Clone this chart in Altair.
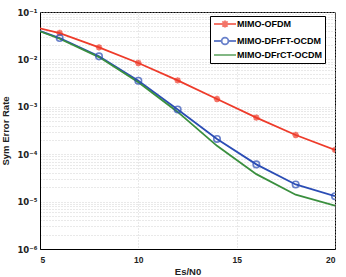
import altair as alt
import pandas as pd

series_names = ["MIMO-OFDM", "MIMO-DFrFT-OCDM", "MIMO-DFrCT-OCDM"]
x_vals = [4, 6, 8, 10, 12, 14, 16, 18, 20]
ofdm = [0.057, 0.036, 0.0179, 0.0084, 0.0036, 0.00146, 0.00059, 0.000254, 0.000123]
dfrft = [0.056, 0.0282, 0.0116, 0.00355, 0.00088, 0.00021, 6.1e-5, 2.3e-5, 1.3e-5]
dfrct = [0.0556, 0.0273, 0.0112, 0.0033, 0.00078, 0.00015, 3.8e-5, 1.4e-5, 8.2e-6]
colors = ["#EE3B2A", "#2B4DB5", "#3A8F3E"]

rows = []
for name, vals in zip(series_names, [ofdm, dfrft, dfrct]):
    for xv, yv in zip(x_vals, vals):
        rows.append({"series": name, "x": xv, "y": yv})
df = pd.DataFrame(rows)

y_ticks = [m * 10.0 ** e for e in range(-6, -1) for m in range(1, 10)] + [0.1]
y_label_expr = ("abs(log(datum.value)/LN10 - round(log(datum.value)/LN10)) < 0.001 ? "
                "['', '10\u207b\u00b9', '10\u207b\u00b2', '10\u207b\u00b3', '10\u207b\u2074', '10\u207b\u2075', '10\u207b\u2076']"
                "[-round(log(datum.value)/LN10)] : ''")

# legend symbol paths (unit = sqrt(size)/2)
P_RED = "M-1,0L4.5,0M1.75,-0.9L1.75,0.9M1.1,-0.65L2.4,0.65M1.1,0.65L2.4,-0.65"
P_BLUE = "M-1,0L0.9,0M2.6,0L4.5,0M0.9,0A0.85,0.85,0,1,1,2.6,0A0.85,0.85,0,1,1,0.9,0"
P_GREEN = "M-1,0L4.5,0"
ASTER = "M-1,0L1,0M0,-1L0,1M-0.72,-0.72L0.72,0.72M-0.72,0.72L0.72,-0.72"

FONT = "Liberation Sans"

x_enc = alt.X("x:Q", scale=alt.Scale(domain=[5, 20], nice=False, zero=False),
              axis=alt.Axis(title="Es/N0", values=[5, 10, 15, 20], format="d"))
y_enc = alt.Y("y:Q", scale=alt.Scale(type="log", domain=[1e-6, 1e-1], nice=False),
              axis=alt.Axis(title="Sym Error Rate", values=y_ticks, labelExpr=y_label_expr,
                            labelFont="DejaVu Sans", labelFontSize=8.5))


def make_legend():
    return alt.Legend(
        title=None, orient="none", legendX=170, legendY=4,
        fillColor="white", strokeColor="black", padding=3,
        symbolSize=64, symbolStrokeWidth=1.8, symbolFillColor="white",
        labelFont=FONT, labelFontSize=9, labelFontWeight="bold",
        labelColor="black", labelOffset=14, rowPadding=2)


color_enc = alt.Color("series:N", sort=series_names,
                      scale=alt.Scale(domain=series_names, range=colors), legend=make_legend())

# legend carrier: the clipped first (x=4) samples, outside the visible x range
legend_layer = alt.Chart(df[df["x"] == 4]).mark_point(
    filled=False, clip=True, size=64, strokeWidth=1.8
).encode(
    x=x_enc, y=y_enc,
    color=color_enc,
    shape=alt.Shape("series:N", sort=series_names,
                    scale=alt.Scale(domain=series_names, range=[P_RED, P_BLUE, P_GREEN]),
                    legend=make_legend()),
)

lines = alt.Chart(df).mark_line(strokeWidth=1.8, clip=True).encode(
    x=x_enc, y=y_enc, color=color_enc,
)

red_pts = alt.Chart(df[(df["series"] == series_names[0]) & (df["x"] >= 6)]).mark_point(
    filled=False, strokeWidth=1.8, clip=True, shape=ASTER, size=40, color=colors[0]
).encode(x=x_enc, y=y_enc)

blue_pts = alt.Chart(df[(df["series"] == series_names[1]) & (df["x"] >= 6)]).mark_point(
    filled=False, strokeWidth=1.6, clip=True, shape="circle", size=42, color=colors[1]
).encode(x=x_enc, y=y_enc)

chart = alt.layer(legend_layer, lines, red_pts, blue_pts).properties(
    width=295, height=237,
    autosize=alt.AutoSizeParams(type="none"),
    padding={"left": 40, "top": 12, "right": 11, "bottom": 28},
).configure_view(stroke="black", strokeWidth=1).configure_axis(
    grid=True, gridColor="#c8c8c8", gridDash=[1, 2], gridWidth=0.8,
    domainColor="black", domainWidth=1, ticks=False,
    labelFont=FONT, labelFontSize=8.5, labelFontWeight="bold", labelColor="#222222",
    titleFont=FONT, titleFontSize=9.5, titleFontWeight="bold", titleColor="#222222",
    labelPadding=4,
).configure_axisX(titlePadding=3, labelPadding=6).configure_axisY(titlePadding=6, labelPadding=3)

chart.save("out.html", embed_options={"renderer": "svg", "actions": False})
